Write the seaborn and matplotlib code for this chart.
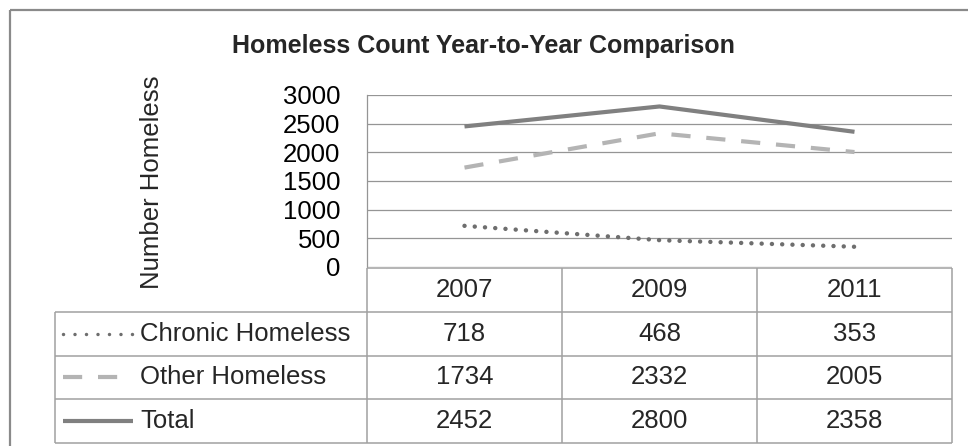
import numpy as np
import pandas as pd
import matplotlib
matplotlib.use("Agg")
import matplotlib.pyplot as plt
import seaborn as sns
from matplotlib.patches import Rectangle

# data
years = ["2007", "2009", "2011"]
series = ["Chronic Homeless", "Other Homeless", "Total"]
chronic = [718, 468, 353]
other = [1734, 2332, 2005]
total = [2452, 2800, 2358]
yticks = [0, 500, 1000, 1500, 2000, 2500, 3000]
title = "Homeless Count Year-to-Year Comparison"
ylabel = "Number Homeless"

sns.set_style("white")
plt.rcParams["font.family"] = ["Liberation Sans", "DejaVu Sans"]

W, H = 968, 446
fig = plt.figure(figsize=(W / 100, H / 100), dpi=100)
fig.patch.set_facecolor("white")


def fx(x):
    return x / W


def fy(y):
    return 1 - y / H


# outer chart border (right/bottom edges fall outside the picture)
fig.patches.append(Rectangle((fx(10), fy(10)), 2, -2, transform=fig.transFigure,
                             fill=False, edgecolor="#8a8a8a", linewidth=1.6))

# plot area
L, R, T, B = 367, 952, 95, 267
ax = fig.add_axes([fx(L), fy(B), fx(R - L), (B - T) / H])

df = pd.DataFrame({
    "pos": np.tile(np.arange(len(years)), 3),
    "count": chronic + other + total,
    "series": np.repeat(series, len(years)),
})

styles = {
    "Chronic Homeless": dict(color="#6e6e6e", linewidth=3.2, linestyle=(0, (0.01, 2.3)),
                             dash_capstyle="round"),
    "Other Homeless": dict(color="#b4b4b4", linewidth=3.0, linestyle=(0, (4.6, 3.8)),
                           dash_capstyle="butt"),
    "Total": dict(color="#808080", linewidth=3.0, linestyle="-", solid_capstyle="butt"),
}

for s in series:
    sns.lineplot(data=df[df["series"] == s], x="pos", y="count", ax=ax,
                 legend=False, **styles[s])

ax.set_xlim(-0.5, len(years) - 0.5)
ax.set_ylim(0, 3000)
ax.set_yticks(yticks)
ax.set_yticklabels([str(v) for v in yticks])
ax.set_xticks([])
ax.set_xlabel("")
ax.set_ylabel("")
ax.grid(axis="y", color="#959595", linewidth=0.9)
ax.set_axisbelow(True)
ax.tick_params(axis="y", length=0, pad=19, labelsize=18.5, labelcolor="black")
for side in ["top", "right", "bottom"]:
    ax.spines[side].set_visible(False)
ax.spines["left"].set_color("#959595")
ax.spines["left"].set_linewidth(0.9)
ax.patch.set_alpha(0)

# data table under the plot
TL, TT, TB = 55, 268, 443
cat_w = (R - L) / len(years)
x0 = -0.5 - (L - TL) / cat_w
tax = fig.add_axes([fx(TL), fy(TB), fx(R - TL), (TB - TT) / H])
tax.set_xlim(x0, len(years) - 0.5)
tax.set_ylim(4, 0)
tax.axis("off")

lc = "#a0a0a0"
lw = 1.1
tax.hlines(0, -0.5, len(years) - 0.5, color=lc, linewidth=lw, clip_on=False)
tax.hlines([1, 2, 3, 4], x0, len(years) - 0.5, color=lc, linewidth=lw, clip_on=False)
tax.vlines([-0.5 + i for i in range(len(years) + 1)], 0, 4, color=lc, linewidth=lw, clip_on=False)
tax.vlines(x0, 1, 4, color=lc, linewidth=lw, clip_on=False)

fs = 18.5
for i, yr in enumerate(years):
    tax.text(i, 0.5, yr, ha="center", va="center", fontsize=fs)

values = [chronic, other, total]
for r, (s, vals) in enumerate(zip(series, values)):
    yc = r + 1.5
    for i, v in enumerate(vals):
        tax.text(i, yc, str(v), ha="center", va="center", fontsize=fs)
    # legend key
    k0 = x0 + 8 / cat_w
    k1 = x0 + (78 / cat_w if s != "Other Homeless" else 65 / cat_w)
    st = dict(styles[s])
    if s == "Chronic Homeless":
        st.update(linewidth=2.5, linestyle=(0, (0.01, 3.3)))
    tax.plot([k0, k1], [yc, yc], clip_on=False, **st)
    tax.text(x0 + 85 / cat_w, yc, s, ha="left", va="center", fontsize=fs)

# title and axis label
fig.text(fx(483), fy(46), title, ha="center", va="center", fontsize=18, fontweight="bold")
fig.text(fx(152), fy(182), ylabel, ha="center", va="center", rotation=90, fontsize=18.5)

fig.savefig("out.png", dpi=100, facecolor="white")
